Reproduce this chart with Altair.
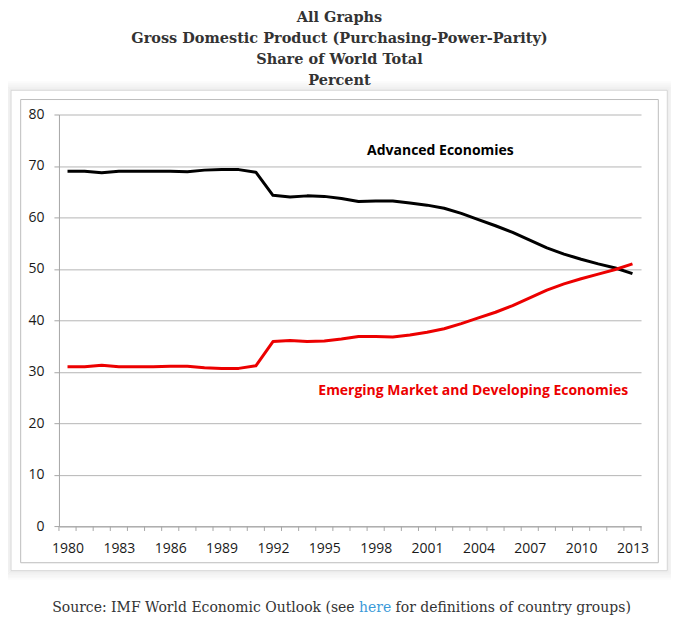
import altair as alt
import pandas as pd

# ---------------- data ----------------
years = list(range(1980, 2014))
advanced = [69.0, 69.0, 68.7, 69.0, 69.0, 69.0, 69.0, 68.9, 69.2, 69.3, 69.3, 68.8,
            64.3, 64.0, 64.2, 64.1, 63.7, 63.1, 63.2, 63.2,
            62.8, 62.4, 61.8, 60.8, 59.6, 58.4, 57.1, 55.6, 54.1, 52.9,
            51.9, 51.0, 50.2, 49.1]
emerging = [31.0, 31.0, 31.3, 31.0, 31.0, 31.0, 31.1, 31.1, 30.8, 30.7, 30.7, 31.2,
            35.9, 36.1, 35.9, 36.0, 36.4, 36.9, 36.9, 36.8,
            37.2, 37.7, 38.4, 39.4, 40.5, 41.6, 42.9, 44.4, 45.9, 47.1,
            48.1, 49.0, 49.9, 51.0]
series_names = ["Advanced Economies", "Emerging Market and Developing Economies"]
series_colors = ["#000000", "#ec0000"]

tick_years = [1980, 1983, 1986, 1989, 1992, 1995, 1998, 2001, 2004, 2007, 2010, 2013]
y_ticks = [0, 10, 20, 30, 40, 50, 60, 70, 80]

label_texts = ["Advanced Economies", "Emerging Market and Developing Economies"]
label_years = [1997.5, 1994.65]
label_values = [72.9, 26.3]

title_lines = ["All Graphs",
               "Gross Domestic Product (Purchasing-Power-Parity)",
               "Share of World Total",
               "Percent"]
source_left = "Source: IMF World Economic Outlook (see"
source_link = "here"
source_right = "for definitions of country groups)"

# ---------------- tables ----------------
df = pd.DataFrame({
    "year": years * 2,
    "value": advanced + emerging,
    "series": [series_names[0]] * len(years) + [series_names[1]] * len(years),
})
labels_df = pd.DataFrame({"text": label_texts, "year": label_years,
                          "value": label_values, "series": series_names})
# category boundaries (Excel-style ticks between years)
bounds_df = pd.DataFrame({"year": [years[0] - 0.5 + i for i in range(len(years) + 1)]})

W, H = 582.7, 412.4
x_scale = alt.Scale(domain=[years[0] - 0.5, years[-1] + 0.5], nice=False, zero=False)
y_scale = alt.Scale(domain=[0, 80], nice=False)
color_scale = alt.Scale(domain=series_names, range=series_colors)

x_axis = alt.Axis(
    values=tick_years, format="d", ticks=False,
    domainColor="#a6a6a6",
    labelFont="Open Sans", labelFontSize=14, labelColor="#1a1a1a",
    labelPadding=15, labelOverlap=False, labelFlush=False,
    grid=False, title=None,
)
y_axis = alt.Axis(
    values=y_ticks, grid=True, gridColor="#b5b5b5",
    tickSize=5, tickColor="#a6a6a6", domainColor="#a6a6a6",
    labelFont="Open Sans", labelFontSize=14, labelColor="#1a1a1a",
    labelPadding=10, title=None,
)
X = alt.X("year:Q", scale=x_scale, axis=x_axis)
Y = alt.Y("value:Q", scale=y_scale, axis=y_axis)

lines = alt.Chart(df).mark_line(strokeWidth=3, strokeJoin="round").encode(
    x=X, y=Y,
    color=alt.Color("series:N", scale=color_scale, legend=None),
    detail="series:N",
)

ticks = alt.Chart(bounds_df).mark_rule(color="#a6a6a6", strokeWidth=1).encode(
    x=X,
    y=alt.value(H),
    y2=alt.value(H + 4.5),
)

labels = alt.Chart(labels_df).mark_text(
    font="Open Sans", fontSize=14, fontWeight="bold", align="left", baseline="middle"
).encode(
    x=X, y=Y,
    text="text:N",
    color=alt.Color("series:N", scale=color_scale, legend=None),
)

one = pd.DataFrame({"k": [0]})

# decorative frames (page image box with soft shadow, inner chart border)
frames = []
box = (-48, 609, -24.3, 456.7)
for k in range(1, 11):
    frames.append(alt.Chart(one).mark_rect(
        fill="white", fillOpacity=0, stroke="#000000",
        strokeOpacity=0.075 * (1 - (k - 1) / 10), strokeWidth=1
    ).encode(x=alt.value(box[0] - k), x2=alt.value(box[1] + k),
             y=alt.value(box[2] - k), y2=alt.value(box[3] + k)))
frames.append(alt.Chart(one).mark_rect(
    fill="white", fillOpacity=0, stroke="#d4d4d4", strokeWidth=1
).encode(x=alt.value(box[0]), x2=alt.value(box[1]), y=alt.value(box[2]), y2=alt.value(box[3])))
frames.append(alt.Chart(one).mark_rect(
    fill="white", fillOpacity=0, stroke="#bdbdbd", strokeWidth=1
).encode(x=alt.value(-38.3), x2=alt.value(600), y=alt.value(-15), y2=alt.value(448.7)))

src_y = 493.7
src_font = dict(font="DejaVu Serif", fontSize=14, baseline="middle")
src1 = alt.Chart(one).mark_text(align="right", color="#333333", **src_font).encode(
    x=alt.value(296), y=alt.value(src_y), text=alt.value(source_left))
src2 = alt.Chart(one).mark_text(align="center", color="#3b9ad9", **src_font).encode(
    x=alt.value(316.5), y=alt.value(src_y), text=alt.value(source_link))
src3 = alt.Chart(one).mark_text(align="left", color="#333333", **src_font).encode(
    x=alt.value(337), y=alt.value(src_y), text=alt.value(source_right))

chart = alt.layer(*frames, lines, ticks, labels, src1, src2, src3).properties(
    width=W, height=H,
    title=alt.TitleParams(
        text=title_lines, font="DejaVu Serif", fontSize=14.5, fontWeight="bold",
        color="#333333", lineHeight=21, anchor="middle", dx=-10.5, offset=-9,
    ),
    autosize=alt.AutoSizeParams(type="none"),
    padding={"left": 51, "top": 106.3, "right": 30, "bottom": 100},
    background="white",
).configure_view(strokeWidth=0)

chart.save("out.html", embed_options={"renderer": "svg", "actions": False})
